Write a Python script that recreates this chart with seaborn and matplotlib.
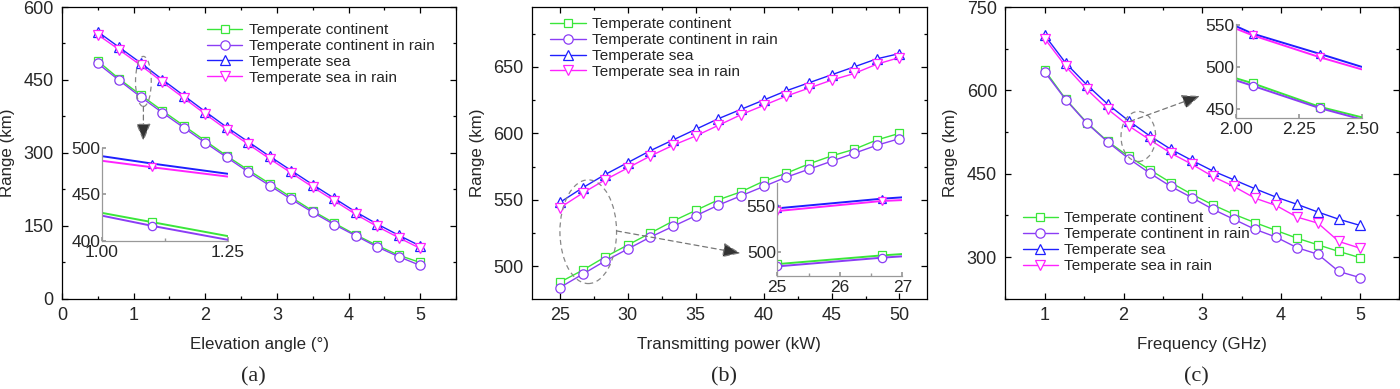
import matplotlib
matplotlib.use("Agg")
import matplotlib.pyplot as plt
import seaborn as sns
from matplotlib.patches import Ellipse
from matplotlib.ticker import MultipleLocator

# series names / styles
names = ["Temperate continent", "Temperate continent in rain",
         "Temperate sea", "Temperate sea in rain"]
colors = ["#3AE63A", "#8B3DF5", "#1F1FFF", "#FF22FF"]
markers = ["s", "o", "^", "v"]

# (a) elevation angle
elev = [0.5, 0.8, 1.1, 1.4, 1.7, 2.0, 2.3, 2.6, 2.9, 3.2, 3.5, 3.8, 4.1, 4.4, 4.7, 5.0]
a_cont = [489, 452, 419, 387, 356, 325, 294, 265, 237, 209, 181, 156, 132, 110, 90, 75]
a_cont_rain = [484, 449, 415, 383, 352, 321, 291, 261, 233, 205, 178, 153, 130, 107, 87, 69]
a_sea = [549, 517, 485, 451, 418, 385, 353, 323, 293, 264, 235, 207, 179, 154, 131, 109]
a_sea_rain = [543, 512, 480, 446, 413, 380, 348, 318, 288, 259, 230, 202, 174, 149, 126, 104]

# (a) inset
a_in_x = [1.0, 1.1, 1.25]
a_in_cont = [430, 420, 405]
a_in_cont_rain = [427, 416, 401]
a_in_sea = [491, 483, 472]
a_in_sea_rain = [486, 479, 469]

# (b) transmitting power
power = [25, 26.67, 28.33, 30, 31.67, 33.33, 35, 36.67, 38.33, 40,
         41.67, 43.33, 45, 46.67, 48.33, 50]
b_cont = [488, 497, 507, 516, 525, 534, 542, 550, 556, 564, 570, 577, 583, 588, 595, 600]
b_cont_rain = [484, 494, 504, 513, 522, 530, 538, 546, 553, 560, 567, 573, 579, 585, 591, 596]
b_sea = [548, 559, 569, 578, 587, 595, 603, 611, 618, 625, 632, 638, 644, 650, 656, 660]
b_sea_rain = [544, 555, 565, 574, 583, 591, 598, 606, 614, 621, 628, 634, 640, 645, 652, 657]

# (b) inset
b_in_x = [25, 26.67, 27]
b_in_cont = [487, 496.5, 498]
b_in_cont_rain = [484.5, 494, 495.5]
b_in_sea = [548, 558.5, 560]
b_in_sea_rain = [545, 556, 557]

# (c) frequency
freq = [1, 1.267, 1.533, 1.8, 2.067, 2.333, 2.6, 2.867, 3.133, 3.4,
        3.667, 3.933, 4.2, 4.467, 4.733, 5]
c_cont = [636, 584, 542, 508, 481, 457, 434, 413, 394, 377, 362, 348, 334, 322, 310, 299]
c_cont_rain = [633, 583, 541, 507, 477, 451, 427, 407, 386, 368, 350, 336, 317, 305, 274, 263]
c_sea = [699, 649, 610, 575, 545, 518, 494, 474, 455, 439, 423, 408, 395, 381, 368, 357]
c_sea_rain = [693, 643, 602, 566, 536, 511, 487, 467, 445, 427, 406, 393, 372, 361, 328, 316]

# (c) inset
c_in_x = [2.0, 2.067, 2.333, 2.5]
c_in_cont = [487, 481, 453, 440.5]
c_in_cont_rain = [484.5, 478, 451.5, 438]
c_in_sea = [549, 540, 516, 500.5]
c_in_sea_rain = [546, 538, 512, 497.5]

sns.set_theme(style="ticks")
plt.rcParams["font.family"] = ["Liberation Sans", "DejaVu Sans"]
plt.rcParams["axes.linewidth"] = 0.9
plt.rcParams["xtick.direction"] = "in"
plt.rcParams["ytick.direction"] = "in"

fig = plt.figure(figsize=(14, 3.89), dpi=100)


def draw(ax, x, ys, ms=6.7, lw=1.0, markevery=None, label=True):
    for y, name, c, m in zip(ys, names, colors, markers):
        sns.lineplot(x=x, y=y, ax=ax, color=c, marker=m,
                     markersize=ms - 0.6 if m == "s" else ms,
                     markerfacecolor="white", markeredgecolor=c,
                     markeredgewidth=0.9, linewidth=lw,
                     markevery=markevery,
                     label=name if label else None)


def style_main(ax, xmaj, xmin, ymaj, ymin):
    ax.xaxis.set_major_locator(MultipleLocator(xmaj))
    ax.xaxis.set_minor_locator(MultipleLocator(xmin))
    ax.yaxis.set_major_locator(MultipleLocator(ymaj))
    ax.yaxis.set_minor_locator(MultipleLocator(ymin))
    ax.tick_params(which="both", top=True, right=True, labelsize=13,
                   color="black", width=0.9)
    ax.tick_params(which="major", length=4.5, pad=6)
    ax.tick_params(which="minor", length=2.3)
    for s in ax.spines.values():
        s.set_color("black")
    ax.set_ylabel("Range (km)", fontsize=12.2, labelpad=6)


def style_inset(ax):
    ax.set_facecolor("none")
    ax.spines["top"].set_visible(False)
    ax.spines["right"].set_visible(False)
    ax.spines["left"].set_color("#999999")
    ax.spines["bottom"].set_color("#999999")
    ax.tick_params(which="both", labelsize=12.5, color="#999999", pad=1)
    ax.tick_params(axis="x", which="both", pad=3)
    ax.tick_params(which="major", length=3)
    ax.tick_params(which="minor", length=2)
    ax.set_xlabel("")
    ax.set_ylabel("")


def legend(ax, x0, y0):
    ax.legend(loc="upper left", bbox_to_anchor=(x0, y0), frameon=False,
              fontsize=11.1, handlelength=2.3, handletextpad=0.4,
              labelspacing=0.12, borderpad=0, borderaxespad=0)


def zoom_marks(ax, center, w, h, start, end):
    ax.add_patch(Ellipse(center, w, h, fill=False, ls=(0, (4, 3)),
                         ec="#888888", lw=0.9, zorder=5))
    ax.annotate("", xy=end, xytext=start,
                arrowprops=dict(arrowstyle="-|>,head_length=1.1,head_width=0.45",
                                ls=(0, (4, 3)), edgecolor="#777777",
                                facecolor="#333333", lw=0.9,
                                mutation_scale=10, shrinkA=0, shrinkB=0),
                zorder=5)


# ---------- (a) ----------
ax1 = fig.add_axes([0.0443, 0.2314, 0.2814, 0.7506])
draw(ax1, elev, [a_cont, a_cont_rain, a_sea, a_sea_rain])
ax1.set_xlim(0, 5.5)
ax1.set_ylim(0, 600)
style_main(ax1, 1, 0.5, 150, 75)
ax1.set_xlabel("Elevation angle (°)", fontsize=12.2, labelpad=9)
legend(ax1, 0.368, 0.945)
zoom_marks(ax1, (1.136, 447), 0.22, 103, (1.136, 396), (1.136, 324))

in1 = fig.add_axes([0.0726, 0.3812, 0.09, 0.239])
draw(in1, a_in_x, [a_in_cont, a_in_cont_rain, a_in_sea, a_in_sea_rain],
     ms=6, lw=1.4, markevery=[1], label=False)
in1.set_xlim(1.0, 1.25)
in1.set_ylim(400, 500)
in1.set_xticks([1.0, 1.25])
in1.set_xticklabels(["1.00", "1.25"])
in1.xaxis.set_minor_locator(MultipleLocator(0.125))
in1.set_yticks([400, 450, 500])
style_inset(in1)

# ---------- (b) ----------
ax2 = fig.add_axes([0.38, 0.2314, 0.2819, 0.7506])
draw(ax2, power, [b_cont, b_cont_rain, b_sea, b_sea_rain])
ax2.set_xlim(22.95, 52.0)
ax2.set_ylim(475.4, 695)
style_main(ax2, 5, 2.5, 50, 25)
ax2.set_xlabel("Transmitting power (kW)", fontsize=12.2, labelpad=9)
legend(ax2, 0.046, 0.965)
zoom_marks(ax2, (27.09, 526), 4.17, 78, (29.17, 526.6), (38.3, 509.8))

in2 = fig.add_axes([0.5552, 0.2905, 0.0893, 0.2398])
draw(in2, b_in_x, [b_in_cont, b_in_cont_rain, b_in_sea, b_in_sea_rain],
     ms=6, lw=1.4, markevery=[0, 1], label=False)
in2.set_xlim(25, 27)
in2.set_ylim(474, 576)
in2.set_xticks([25, 26, 27])
in2.xaxis.set_minor_locator(MultipleLocator(0.5))
in2.set_yticks([500, 550])
style_inset(in2)

# ---------- (c) ----------
ax3 = fig.add_axes([0.7181, 0.2314, 0.2814, 0.7506])
draw(ax3, freq, [c_cont, c_cont_rain, c_sea, c_sea_rain])
ax3.set_xlim(0.5, 5.5)
ax3.set_ylim(224.5, 750)
style_main(ax3, 1, 0.5, 150, 75)
ax3.set_xlabel("Frequency (GHz)", fontsize=12.2, labelpad=9)
legend(ax3, 0.044, 0.30)
zoom_marks(ax3, (2.188, 517), 0.44, 90, (2.08, 544), (2.97, 590))

in3 = fig.add_axes([0.8826, 0.6974, 0.09, 0.240])
draw(in3, c_in_x, [c_in_cont, c_in_cont_rain, c_in_sea, c_in_sea_rain],
     ms=6, lw=1.4, markevery=[1, 2], label=False)
in3.set_xlim(2.0, 2.5)
in3.set_ylim(440, 551)
in3.set_xticks([2.0, 2.25, 2.5])
in3.set_xticklabels(["2.00", "2.25", "2.50"])
in3.set_yticks([450, 500, 550])
style_inset(in3)

# captions
for ax, cap in [(ax1, "(a)"), (ax2, "(b)"), (ax3, "(c)")]:
    pos = ax.get_position()
    fig.text(pos.x0 + pos.width / 2 - 0.004, 0.03, cap, ha="center", va="center",
             fontsize=16, family=["Liberation Serif", "DejaVu Serif"])

fig.savefig("out.png", dpi=100)
